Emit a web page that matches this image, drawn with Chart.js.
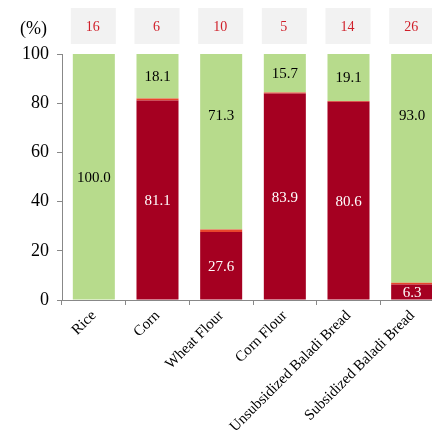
<!DOCTYPE html>
<html>
<head>
<meta charset="utf-8">
<script src="https://cdn.jsdelivr.net/npm/chart.js@4/dist/chart.umd.min.js"></script>
<style>
html,body{margin:0;padding:0;background:#fff;}
#wrap{position:relative;width:432px;height:442px;overflow:hidden;}
#c{position:absolute;left:0;top:0;}
</style>
</head>
<body>
<div id="wrap"><canvas id="c" width="450" height="442" style="width:450px;height:442px"></canvas></div>
<script>
const categories = ["Rice","Corn","Wheat Flour","Corn Flour","Unsubsidized Baladi Bread","Subsidized Baladi Bread"];
const redValues = [0, 81.1, 27.6, 83.9, 80.6, 6.3];
const midValues = [0, 0.8, 1.1, 0.4, 0.3, 0.7];
const greenValues = [100.0, 18.1, 71.3, 15.7, 19.1, 93.0];
const topCounts = [16, 6, 10, 5, 14, 26];
const yTicks = [0, 20, 40, 60, 80, 100];

const SERIF = "'Liberation Serif','DejaVu Serif',serif";

const labelPlugin = {
  id: 'labelPlugin',
  afterDraw(chart) {
    const ctx = chart.ctx;
    const xs = chart.scales.x, ys = chart.scales.y;
    const area = chart.chartArea;
    const greenPos = chart.options.plugins.labelPlugin.greenPos;
    ctx.save();
    ctx.textAlign = 'center';
    ctx.textBaseline = 'middle';
    categories.forEach((c, i) => {
      const x = xs.getPixelForValue(i);
      ctx.fillStyle = '#F2F2F2';
      ctx.fillRect(x - 23, area.top - 46, 45, 36);
      ctx.fillStyle = '#D0202A';
      ctx.font = "14px " + SERIF;
      ctx.fillText(String(topCounts[i]), x - 1, area.top - 27);
      ctx.font = "15px " + SERIF;
      if (redValues[i] > 0) {
        ctx.fillStyle = '#FFFFFF';
        ctx.fillText(redValues[i].toFixed(1), x, ys.getPixelForValue(redValues[i] / 2) + 1);
      }
      const base = redValues[i] + midValues[i];
      const gp = greenPos[i] != null ? greenPos[i] : base + greenValues[i] / 2;
      ctx.fillStyle = '#000000';
      ctx.fillText(greenValues[i].toFixed(1), x, ys.getPixelForValue(gp) + 1);
    });
    ctx.font = "18px " + SERIF;
    ctx.fillStyle = '#000';
    ctx.textAlign = 'left';
    ctx.fillText('(%)', 20, area.top - 25);
    ctx.restore();
  }
};

new Chart(document.getElementById('c'), {
  type: 'bar',
  data: {
    labels: categories,
    datasets: [
      {data: redValues, backgroundColor: '#A50021', borderWidth: 0},
      {data: midValues, backgroundColor: '#E8452C', borderWidth: 0},
      {data: greenValues, backgroundColor: '#B7DB8C', borderWidth: 0}
    ]
  },
  options: {
    responsive: false,
    animation: false,
    devicePixelRatio: 1,
    layout: {padding: {left: 14, right: 6, top: 54, bottom: 0}},
    plugins: {
      legend: {display: false},
      tooltip: {enabled: false},
      labelPlugin: {greenPos: [null, null, 75, null, null, 75]}
    },
    datasets: {bar: {categoryPercentage: 1.0, barPercentage: 0.66}},
    scales: {
      x: {
        stacked: true,
        afterFit(scale) { scale.height = 142; },
        grid: {display: true, drawOnChartArea: false, tickLength: 5, color: '#888'},
        border: {color: '#888', width: 1},
        ticks: {font: {family: SERIF, size: 15}, color: '#000', maxRotation: 45, minRotation: 45, padding: 2}
      },
      y: {
        stacked: true,
        min: 0, max: 100,
        afterBuildTicks(scale) { scale.ticks = yTicks.map(v => ({value: v})); },
        grid: {display: true, drawOnChartArea: false, tickLength: 5, color: '#888'},
        border: {color: '#888', width: 1},
        ticks: {font: {family: SERIF, size: 18}, color: '#000', padding: 8}
      }
    }
  },
  plugins: [labelPlugin]
});
</script>
</body>
</html>
